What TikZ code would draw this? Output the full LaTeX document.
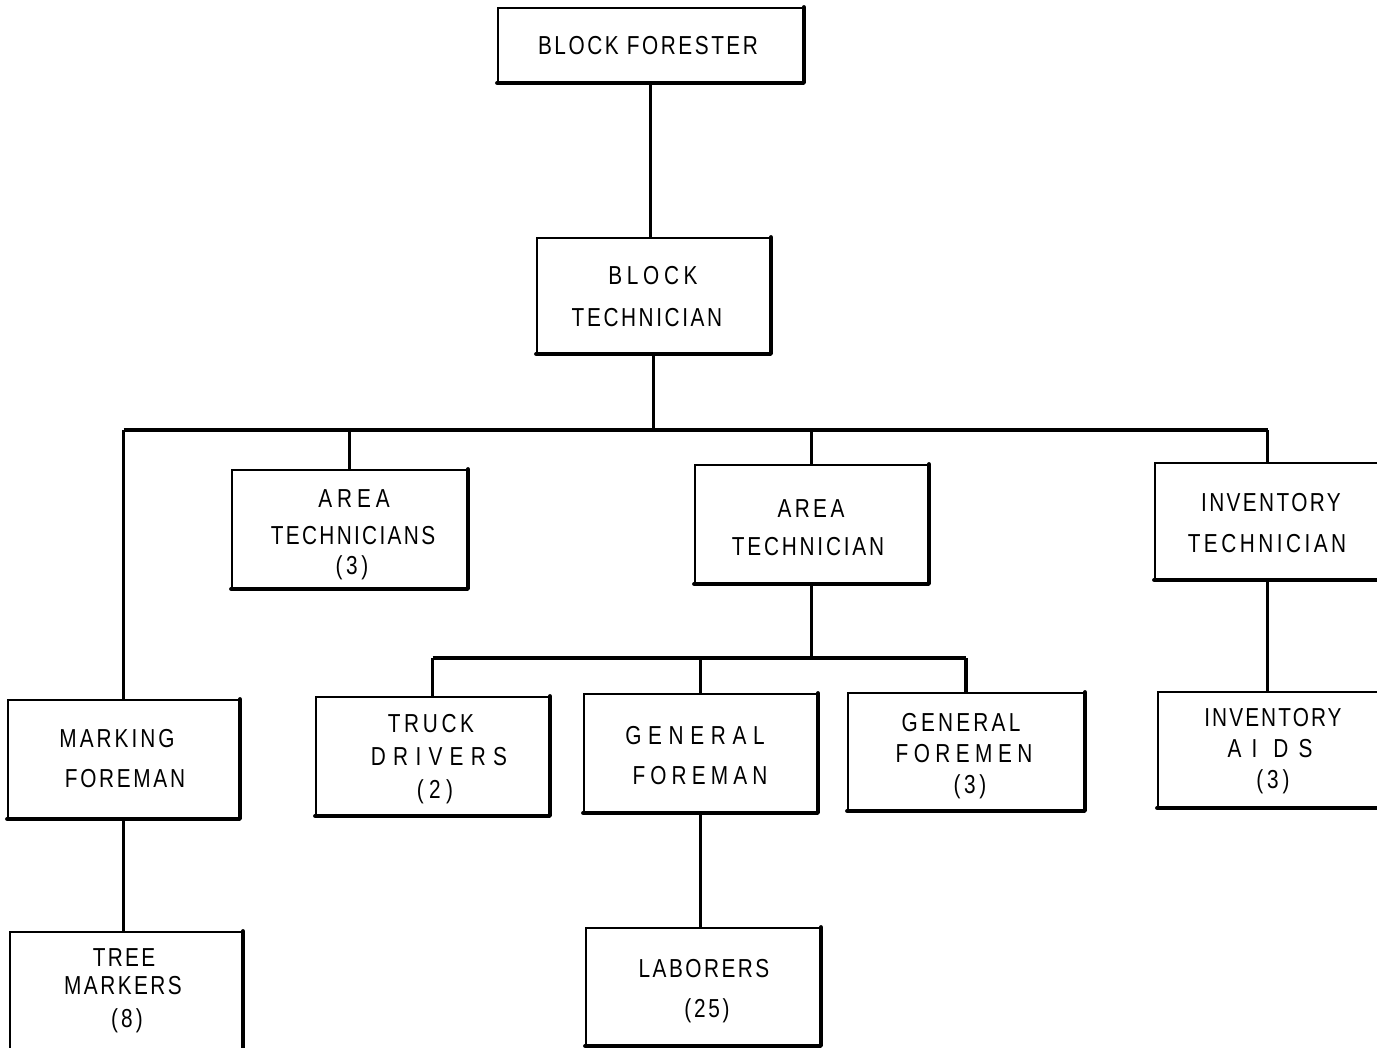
\documentclass[tikz,border=0pt]{standalone}
\usepackage{fontspec}
\setmainfont{Liberation Sans}[FakeStretch=0.8]
\begin{document}
\begin{tikzpicture}[x=0.5pt,y=-0.5pt,
  box/.style={draw, line width=0.9pt, inner sep=0pt, fill=white},
  shadowline/.style={line width=2pt, line cap=round, line join=round},
  conn/.style={line width=1.9pt},
  txt/.style={inner sep=0pt, font=\fontsize{13}{15}\selectfont}]
\useasboundingbox (0,0) rectangle (1377,1048);
\newcommand\bx[5]{%
  \node[box, minimum width={(#4-#2)*0.5pt}, minimum height={(#5-#3)*0.5pt}] (#1) at ({(#2+#4)/2},{(#3+#5)/2}) {};
  \draw[shadowline] (#1.south west) -- (#1.south east) -- (#1.north east);}
\newcommand\tx[5]{\node[txt] (#1) at (#2,#3) {\addfontfeature{LetterSpace=#4}#5};}
% connectors
\coordinate (busA) at (0,430);
\coordinate (busB) at (0,658);
\bx{bf}{498}{8}{803}{82}
\bx{bt}{537}{238}{770}{353}
\bx{ats}{232}{470}{467}{588}
\bx{at}{695}{465}{928}{583}
\bx{it}{1155}{463}{1380}{579}
\bx{mf}{8}{700}{239}{818}
\bx{tm}{10}{932}{242}{1052}
\bx{td}{316}{697}{549}{815}
\bx{gf}{584}{694}{817}{812}
\bx{gfs}{848}{693}{1084}{810}
\bx{ia}{1158}{692}{1380}{807}
\bx{lab}{586}{928}{820}{1045}
\draw[conn] (bf.south) -- (bf.south |- bt.north);
\draw[conn] (bt.south) -- (bt.south |- busA);
\draw[conn] (mf.north |- busA) -- (it.north |- busA);
\draw[conn] (mf.north |- busA) -- (mf.north);
\draw[conn] (ats.north |- busA) -- (ats.north);
\draw[conn] (at.north |- busA) -- (at.north);
\draw[conn] (it.north |- busA) -- (it.north);
\draw[conn] (at.south) -- (at.south |- busB);
\draw[conn] (td.north |- busB) -- (gfs.north |- busB);
\draw[conn] (td.north |- busB) -- (td.north);
\draw[conn] (gf.north |- busB) -- (gf.north);
\draw[conn] (gfs.north |- busB) -- (gfs.north);
\draw[conn] (mf.south) -- (mf.south |- tm.north);
\draw[conn] (gf.south) -- (gf.south |- lab.north);
\draw[conn] (it.south) -- (it.south |- ia.north);
% texts
\tx{t1}{648}{46}{9.7}{BLOCK FORESTER}
\tx{t2}{653}{276}{18}{BLOCK}
\tx{t3}{647}{318}{10}{TECHNICIAN}
\tx{t4}{354}{499}{19}{AREA}
\tx{t5}{353}{536}{9}{TECHNICIANS}
\tx{t6}{352}{568}{14}{(3)}
\tx{t7}{811}{509}{13}{AREA}
\tx{t8}{808}{547}{10.7}{TECHNICIAN}
\tx{t9}{1271}{503}{9.2}{INVENTORY}
\tx{t10}{1267}{544}{13.4}{TECHNICIAN}
\tx{t11}{117}{739}{11.5}{MARKING}
\tx{t12}{125}{779}{10.4}{FOREMAN}
\tx{t13}{431}{724}{14}{TRUCK}
\tx{t14}{439}{757}{28}{DRIVERS}
\tx{t15}{435}{792}{21}{(2)}
\tx{t16}{695}{736}{25.6}{GENERAL}
\tx{t17}{700}{776}{19.8}{FOREMAN}
\tx{t18}{961}{723}{12.4}{GENERAL}
\tx{t19}{964}{754}{21}{FOREMEN}
\tx{t20}{970}{787}{14}{(3)}
\tx{t21}{1273}{718}{8}{INVENTORY}
\tx{t22}{1270}{749}{39}{AI DS}
\tx{t23}{1273}{782}{15}{(3)}
\tx{t24}{124}{958}{9}{TREE}
\tx{t25}{123}{986}{9.5}{MARKERS}
\tx{t26}{127}{1021}{12}{(8)}
\tx{t27}{704}{969}{9.5}{LABORERS}
\tx{t28}{707}{1011}{10.6}{(25)}
\end{tikzpicture}
\end{document}
